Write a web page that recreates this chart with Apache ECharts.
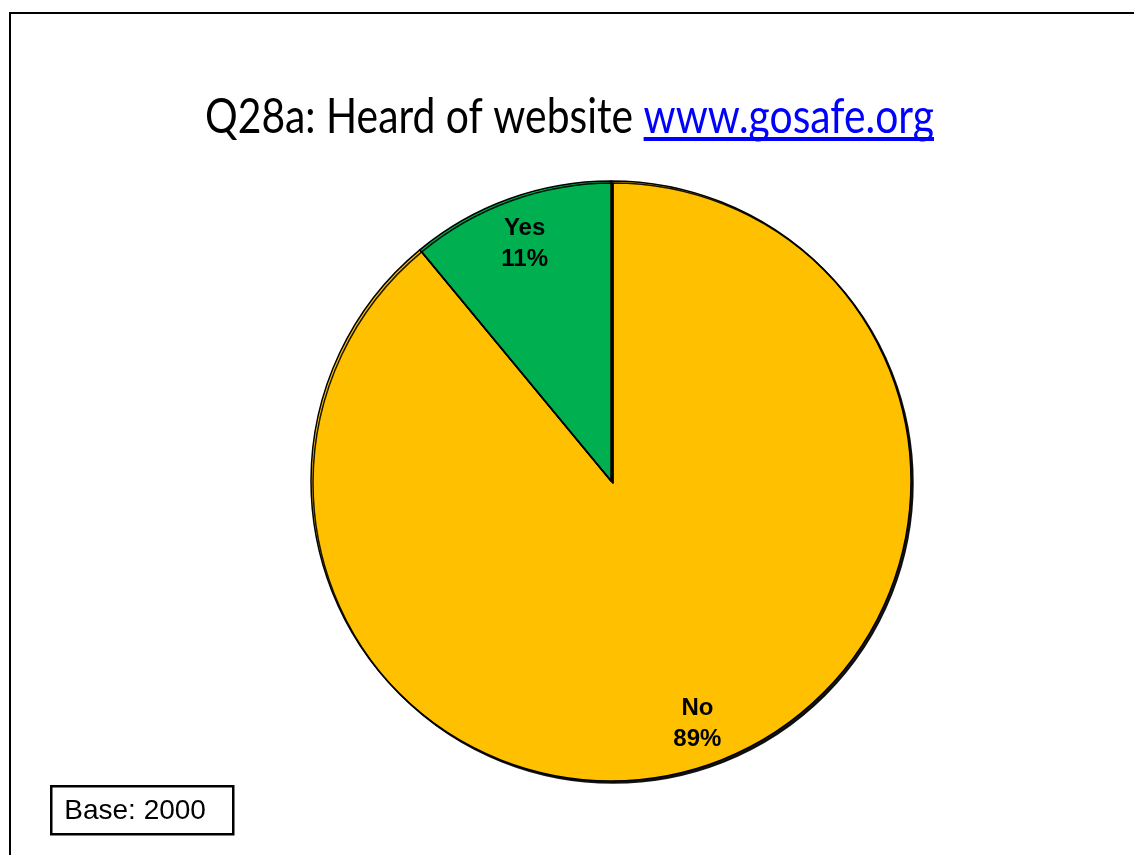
<!DOCTYPE html>
<html>
<head>
<meta charset="utf-8">
<script src="https://cdn.jsdelivr.net/npm/echarts@6/dist/echarts.min.js"></script>
<style>
  html, body { margin: 0; padding: 0; background: #fff; }
  #chart { width: 1134px; height: 855px; }
</style>
</head>
<body>
<div id="chart"></div>
<script>
// Survey answers and their share of respondents (%)
const categories = ['No', 'Yes'];
const shares = [89, 11];
const sliceColors = ['#FFC000', '#00B050'];
const titleText = 'Q28a: Heard of website ';
const titleLink = 'www.gosafe.org';
const baseNote = 'Base: 2000';

const pieData = categories.map((name, i) => ({
  name: name,
  value: shares[i],
  itemStyle: { color: sliceColors[i] }
}));

// Title block: a condensed humanist face, so the run is measured and squeezed to its slot
const TITLE_FONT = '48px Lato';
const TITLE_LEFT = 205, TITLE_RIGHT = 934, TITLE_BOTTOM = 142;
const ctx = document.createElement('canvas').getContext('2d');
ctx.font = TITLE_FONT;
const wPlain = ctx.measureText(titleText).width;
const wLink = ctx.measureText(titleLink).width;
const sx = (TITLE_RIGHT - TITLE_LEFT) / (wPlain + wLink);

const chart = echarts.init(document.getElementById('chart'), null, { renderer: 'canvas' });

chart.setOption({
  backgroundColor: '#ffffff',
  animation: false,
  graphic: [
    {
      type: 'rect',
      shape: { x: 10, y: 13, width: 1200, height: 900 },
      style: { fill: 'none', stroke: '#000', lineWidth: 2 },
      silent: true
    },
    {
      type: 'group',
      x: TITLE_LEFT,
      y: TITLE_BOTTOM,
      scaleX: sx,
      silent: true,
      children: [
        {
          type: 'text',
          x: 0, y: 0,
          style: {
            text: titleText, font: TITLE_FONT, fill: '#000',
            verticalAlign: 'bottom'
          }
        },
        {
          type: 'text',
          x: wPlain, y: 0,
          style: {
            text: titleLink, font: TITLE_FONT, fill: '#0000FF',
            verticalAlign: 'bottom'
          }
        },
        {
          // underline under the web address
          type: 'rect',
          shape: { x: wPlain, y: -5, width: wLink, height: 4 },
          style: { fill: '#0000FF' }
        }
      ]
    },
    {
      type: 'group',
      left: 50,
      top: 785,
      children: [
        {
          type: 'rect',
          shape: { x: 0, y: 0, width: 182, height: 48 },
          style: { fill: '#fff', stroke: '#000', lineWidth: 2.5 }
        },
        {
          type: 'text',
          x: 13,
          y: 25,
          style: {
            text: baseNote,
            fontFamily: 'Liberation Sans, Arial',
            fontSize: 28,
            fill: '#000',
            verticalAlign: 'middle'
          }
        }
      ]
    }
  ],
  series: [
    {
      type: 'pie',
      center: [611, 481],
      radius: [0, 300],
      startAngle: 90,
      clockwise: true,
      silent: true,
      label: { show: false },
      labelLine: { show: false },
      itemStyle: {
        borderColor: '#000',
        borderWidth: 1.5,
        shadowColor: 'rgba(0,0,0,0.9)',
        shadowBlur: 0,
        shadowOffsetX: 2,
        shadowOffsetY: 2
      },
      data: pieData
    },
    {
      // transparent ring that carries the slice labels near the rim
      type: 'pie',
      center: [611, 481],
      radius: [202, 302],
      startAngle: 90,
      clockwise: true,
      silent: true,
      itemStyle: { color: 'transparent', borderWidth: 0 },
      label: {
        show: true,
        position: 'inside',
        offset: [0, 3],
        formatter: '{b}\n{c}%',
        fontFamily: 'Liberation Sans, Arial',
        fontWeight: 'bold',
        fontSize: 24,
        lineHeight: 31,
        color: '#000'
      },
      labelLine: { show: false },
      data: pieData.map(d => ({ name: d.name, value: d.value }))
    }
  ]
});
</script>
</body>
</html>
